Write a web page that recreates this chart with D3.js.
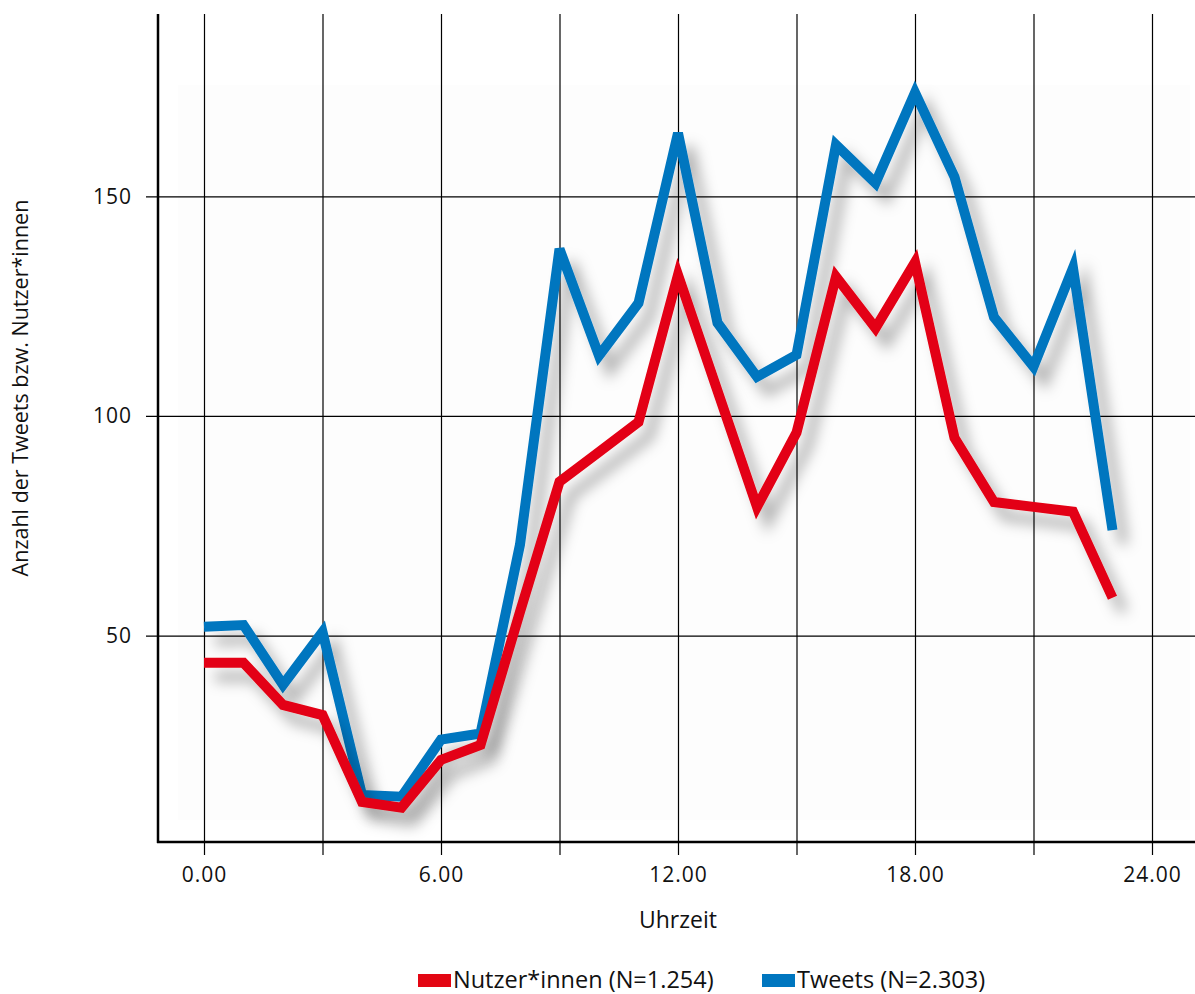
<!DOCTYPE html>
<html>
<head>
<meta charset="utf-8">
<script src="https://cdn.jsdelivr.net/npm/d3@7"></script>
<style>
  html, body { margin: 0; padding: 0; background: #fff; }
  svg { display: block; font-family: "Open Sans", sans-serif; }
</style>
</head>
<body>
<svg id="chart" width="1195" height="994"></svg>
<script>
// Hour of day (0–23) and hourly counts
const hours = d3.range(0, 24);
const tweets = [52.0, 52.4, 38.8, 50.8, 13.7, 13.3, 26.3, 27.7, 70.7, 138.0, 113.7, 125.7,
                164.4, 121.2, 108.9, 113.9, 161.7, 153.0, 173.6, 154.4, 122.5, 111.2, 133.7, 74.0];
const users = [43.8, 43.8, 34.2, 31.9, 12.1, 10.8, 21.7, 25.1, 55.4, 85.0, 91.8, 98.6,
               132.1, 105.7, 79.3, 96.2, 131.7, 120.0, 135.0, 95.0, 80.4, 79.3, 78.2, 58.6];
const xTicks = [0, 3, 6, 9, 12, 15, 18, 21, 24];
const xTickLabels = { 0: "0.00", 6: "6.00", 12: "12.00", 18: "18.00", 24: "24.00" };
const yTicks = [50, 100, 150];
const seriesNames = ["Nutzer*innen (N=1.254)", "Tweets (N=2.303)"];
const seriesColors = ["#e30613", "#0076bf"];

const svg = d3.select("#chart");

const x = d3.scaleLinear().domain([0, 24]).range([204, 1152]);
const y = d3.scaleLinear().domain([3, 191.5]).range([842, 14]);

const axisLeftX = 158, axisBottomY = 842, rightEdge = 1195;

// soft drop shadow for the lines
const defs = svg.append("defs");
const f = defs.append("filter").attr("id", "shadow")
  .attr("x", "-10%").attr("y", "-10%").attr("width", "130%").attr("height", "130%");
f.append("feGaussianBlur").attr("in", "SourceAlpha").attr("stdDeviation", 7).attr("result", "b");
f.append("feOffset").attr("in", "b").attr("dx", 11).attr("dy", 14).attr("result", "o");
f.append("feFlood").attr("flood-color", "#000").attr("flood-opacity", 0.3).attr("result", "c");
f.append("feComposite").attr("in", "c").attr("in2", "o").attr("operator", "in").attr("result", "s");
const m = f.append("feMerge");
m.append("feMergeNode").attr("in", "s");
m.append("feMergeNode").attr("in", "SourceGraphic");

// faint plot panel
svg.append("rect")
  .attr("x", 178).attr("y", 85).attr("width", 1012).attr("height", 735)
  .attr("fill", "#fdfdfd");

// vertical grid + bottom ticks
const xAxis = d3.axisBottom(x)
  .tickValues(xTicks)
  .tickSize(-(axisBottomY - 14))
  .tickFormat(d => xTickLabels[d] || "");
const gx = svg.append("g").attr("transform", `translate(0,${axisBottomY})`).call(xAxis);
gx.select(".domain").remove();
gx.selectAll(".tick line").attr("stroke", "#000").attr("stroke-width", 1.2)
  .attr("y1", 13);
gx.selectAll(".tick text").attr("y", 33).attr("dy", "0.32em")
  .attr("font-size", 21).attr("letter-spacing", 1).attr("fill", "#111")
  .attr("font-family", "Open Sans");

// horizontal grid + left ticks
const yAxis = d3.axisLeft(y)
  .tickValues(yTicks)
  .tickSize(-(rightEdge - axisLeftX))
  .tickFormat(d3.format("d"));
const gy = svg.append("g").attr("transform", `translate(${axisLeftX},0)`).call(yAxis);
gy.select(".domain").remove();
gy.selectAll(".tick line").attr("stroke", "#000").attr("stroke-width", 1.2)
  .attr("x1", -12);
gy.selectAll(".tick text").attr("x", -26).attr("dy", "0.32em")
  .attr("font-size", 21).attr("letter-spacing", 1).attr("fill", "#111")
  .attr("font-family", "Open Sans");

// axis lines
svg.append("line").attr("x1", axisLeftX).attr("x2", axisLeftX)
  .attr("y1", 14).attr("y2", axisBottomY + 1)
  .attr("stroke", "#000").attr("stroke-width", 2.5);
svg.append("line").attr("x1", axisLeftX - 1).attr("x2", rightEdge)
  .attr("y1", axisBottomY).attr("y2", axisBottomY)
  .attr("stroke", "#000").attr("stroke-width", 2.5);

// series lines
const line = d3.line().x((d, i) => x(hours[i])).y(d => y(d));
[[tweets, seriesColors[1]], [users, seriesColors[0]]].forEach(([vals, col]) => {
  svg.append("path")
    .datum(vals)
    .attr("d", line)
    .attr("fill", "none")
    .attr("stroke", col)
    .attr("stroke-width", 10)
    .attr("stroke-linejoin", "miter")
    .attr("stroke-miterlimit", 4)
    .attr("stroke-linecap", "butt")
    .attr("filter", "url(#shadow)");
});

// axis titles
svg.append("text")
  .attr("x", x(12)).attr("y", 920).attr("dy", "0.35em")
  .attr("text-anchor", "middle").attr("font-size", 23).attr("fill", "#111")
  .text("Uhrzeit");
svg.append("text")
  .attr("transform", `translate(20,388) rotate(-90)`)
  .attr("dy", "0.35em")
  .attr("text-anchor", "middle").attr("font-size", 21.5).attr("fill", "#111")
  .text("Anzahl der Tweets bzw. Nutzer*innen");

// legend
const legendItems = [
  { name: seriesNames[0], color: seriesColors[0], x: 418 },
  { name: seriesNames[1], color: seriesColors[1], x: 762 }
];
const lg = svg.append("g");
legendItems.forEach(it => {
  lg.append("rect").attr("x", it.x).attr("y", 974).attr("width", 33).attr("height", 13)
    .attr("fill", it.color);
  lg.append("text").attr("x", it.x + 35).attr("y", 980).attr("dy", "0.35em")
    .attr("font-size", 23.5).attr("fill", "#111")
    .text(it.name);
});
</script>
</body>
</html>
